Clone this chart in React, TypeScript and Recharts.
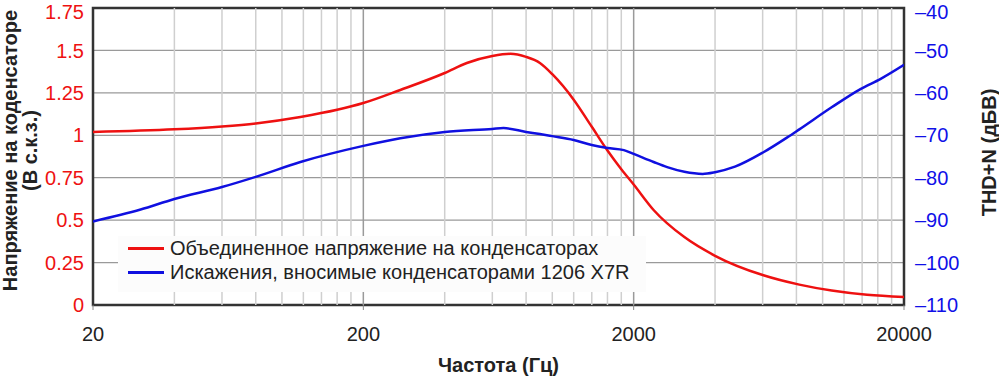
import {
  LineChart, Line, XAxis, YAxis, CartesianGrid, ReferenceLine, ReferenceArea, Legend, Label,
} from 'recharts';

// Объединенное напряжение на конденсаторах (В с.к.з.)
const voltFreq = [20, 40, 60, 80, 117, 160, 200, 274, 400, 483, 600, 700, 800, 900, 1000, 1200, 1400, 1600, 1800, 2000, 2370, 3080, 4000, 6040, 8200, 10800, 14600, 20000];
const voltValues = [1.02, 1.035, 1.052, 1.07, 1.108, 1.15, 1.19, 1.267, 1.367, 1.426, 1.467, 1.48, 1.462, 1.426, 1.36, 1.21, 1.05, 0.91, 0.8, 0.71, 0.56, 0.4, 0.29, 0.175, 0.12, 0.085, 0.06, 0.047];

// Искажения (THD+N, дБВ)
const thdFreq = [20, 30, 40, 60, 80, 117, 200, 274, 400, 600, 660, 800, 900, 1000, 1200, 1400, 1600, 1840, 2000, 2370, 2660, 3080, 3600, 4000, 4740, 6040, 7400, 8200, 10800, 13800, 16400, 20000];
const thdValues = [-90.3, -87.5, -85, -82.2, -79.8, -76.3, -72.5, -70.7, -69.2, -68.5, -68.3, -69.2, -69.7, -70.2, -71.1, -72.3, -73, -73.5, -74.4, -76.3, -77.5, -78.6, -79.1, -78.7, -77.4, -74, -70.5, -68.6, -63.4, -59.1, -56.7, -53.4];

const xTicks = [20, 200, 2000, 20000];
const minorGrid = [40, 60, 80, 100, 120, 140, 160, 180, 400, 600, 800, 1000, 1200, 1400, 1600, 1800, 4000, 6000, 8000, 10000, 12000, 14000, 16000, 18000];
const decadeGrid = [200, 2000];
const leftTicks = [0, 0.25, 0.5, 0.75, 1, 1.25, 1.5, 1.75];
const rightTicks = [-110, -100, -90, -80, -70, -60, -50, -40];

const seriesNames = ['Объединенное напряжение на конденсаторах', 'Искажения, вносимые конденсаторами 1206 X7R'];

const voltData = voltFreq.map((f, i) => ({ f, v: voltValues[i] }));
const thdData = thdFreq.map((f, i) => ({ f, v: thdValues[i] }));

const FONT = '"Liberation Sans", Arial, sans-serif';

function LegendBox({ payload }: any) {
  const items = [...(payload || [])].sort((a: any, b: any) => seriesNames.indexOf(a.value) - seriesNames.indexOf(b.value));
  return (
    <div style={{ background: '#fcfcfc', width: 528, height: 56, fontFamily: FONT, fontSize: 20, color: '#222' }}>
      {items.map((p: any) => (
        <div key={p.value} style={{ display: 'flex', alignItems: 'center', height: 24, paddingLeft: 10 }}>
          <span style={{ display: 'inline-block', width: 36, height: 3, background: p.color, marginRight: 6 }} />
          <span>{p.value}</span>
        </div>
      ))}
    </div>
  );
}

const leftTitle = ({ viewBox }: any) => {
  const cy = viewBox.y + viewBox.height / 2 - 6;
  return (
    <g fontFamily={FONT} fontSize={20} fontWeight="bold" fill="#222">
      <text x={17} y={cy} transform={`rotate(-90, 17, ${cy})`} textAnchor="middle">Напряжение на коденсаторе</text>
      <text x={37} y={cy} transform={`rotate(-90, 37, ${cy})`} textAnchor="middle">(В с.к.з.)</text>
    </g>
  );
};

const rightTitle = ({ viewBox }: any) => {
  const cy = viewBox.y + viewBox.height / 2 - 4;
  return (
    <text x={996} y={cy} transform={`rotate(-90, 996, ${cy})`} textAnchor="middle" fontFamily={FONT} fontSize={20} fontWeight="bold" fill="#222">
      THD+N (дБВ)
    </text>
  );
};

export default function App() {
  return (
    <div>
      <style>{'body{margin:0}'}</style>
      <LineChart width={999} height={378} margin={{ top: 8, right: 0, bottom: 0, left: 0 }} style={{ fontFamily: FONT }}>
        <CartesianGrid yAxisId="left" vertical={false} stroke="#9a9a9a" strokeWidth={1.2} />
        {minorGrid.map(f => (
          <ReferenceLine key={f} x={f} yAxisId="left" stroke="#cfcfcf" strokeWidth={1.5} />
        ))}
        {decadeGrid.map(f => (
          <ReferenceLine key={f} x={f} yAxisId="left" stroke="#9a9a9a" strokeWidth={1.5} />
        ))}
        <XAxis
          dataKey="f"
          type="number"
          scale="log"
          domain={[20, 20000]}
          ticks={xTicks}
          allowDataOverflow
          axisLine={false}
          tickLine={{ stroke: '#888' }}
          tickSize={5}
          tickMargin={17}
          height={73}
          tick={{ fontSize: 20, fill: '#222' }}
        >
          <Label value="Частота (Гц)" position="insideBottom" offset={6} style={{ fontSize: 20, fontWeight: 'bold', fill: '#222' }} />
        </XAxis>
        <YAxis
          yAxisId="left"
          orientation="left"
          domain={[0, 1.75]}
          ticks={leftTicks}
          width={93}
          axisLine={false}
          tickLine={false}
          tickSize={0}
          tickMargin={9}
          tick={{ fontSize: 20, fill: '#ee1111' }}
          label={{ content: leftTitle }}
        />
        <YAxis
          yAxisId="right"
          orientation="right"
          domain={[-110, -40]}
          ticks={rightTicks}
          width={95}
          axisLine={false}
          tickLine={false}
          tickSize={0}
          tickMargin={11}
          tickFormatter={(v: number) => (v < 0 ? '–' + Math.abs(v) : String(v))}
          tick={{ fontSize: 20, fill: '#1010e8', textAnchor: 'start' }}
          label={{ content: rightTitle }}
        />
        <ReferenceArea x1={20} x2={20000} y1={0} y2={1.75} yAxisId="left" fill="none" stroke="#333" strokeWidth={2.5} />
        <Legend
          layout="vertical"
          align="center"
          verticalAlign="middle"
          content={LegendBox}
          wrapperStyle={{ left: 118, top: 236, width: 528, height: 56, right: 'auto', bottom: 'auto' }}
        />
        <Line
          data={voltData}
          yAxisId="left"
          dataKey="v"
          name={seriesNames[0]}
          type="monotone"
          stroke="#ee1111"
          strokeWidth={2.5}
          dot={false}
          isAnimationActive={false}
        />
        <Line
          data={thdData}
          yAxisId="right"
          dataKey="v"
          name={seriesNames[1]}
          type="monotone"
          stroke="#1010e0"
          strokeWidth={2.5}
          dot={false}
          isAnimationActive={false}
        />
      </LineChart>
    </div>
  );
}
